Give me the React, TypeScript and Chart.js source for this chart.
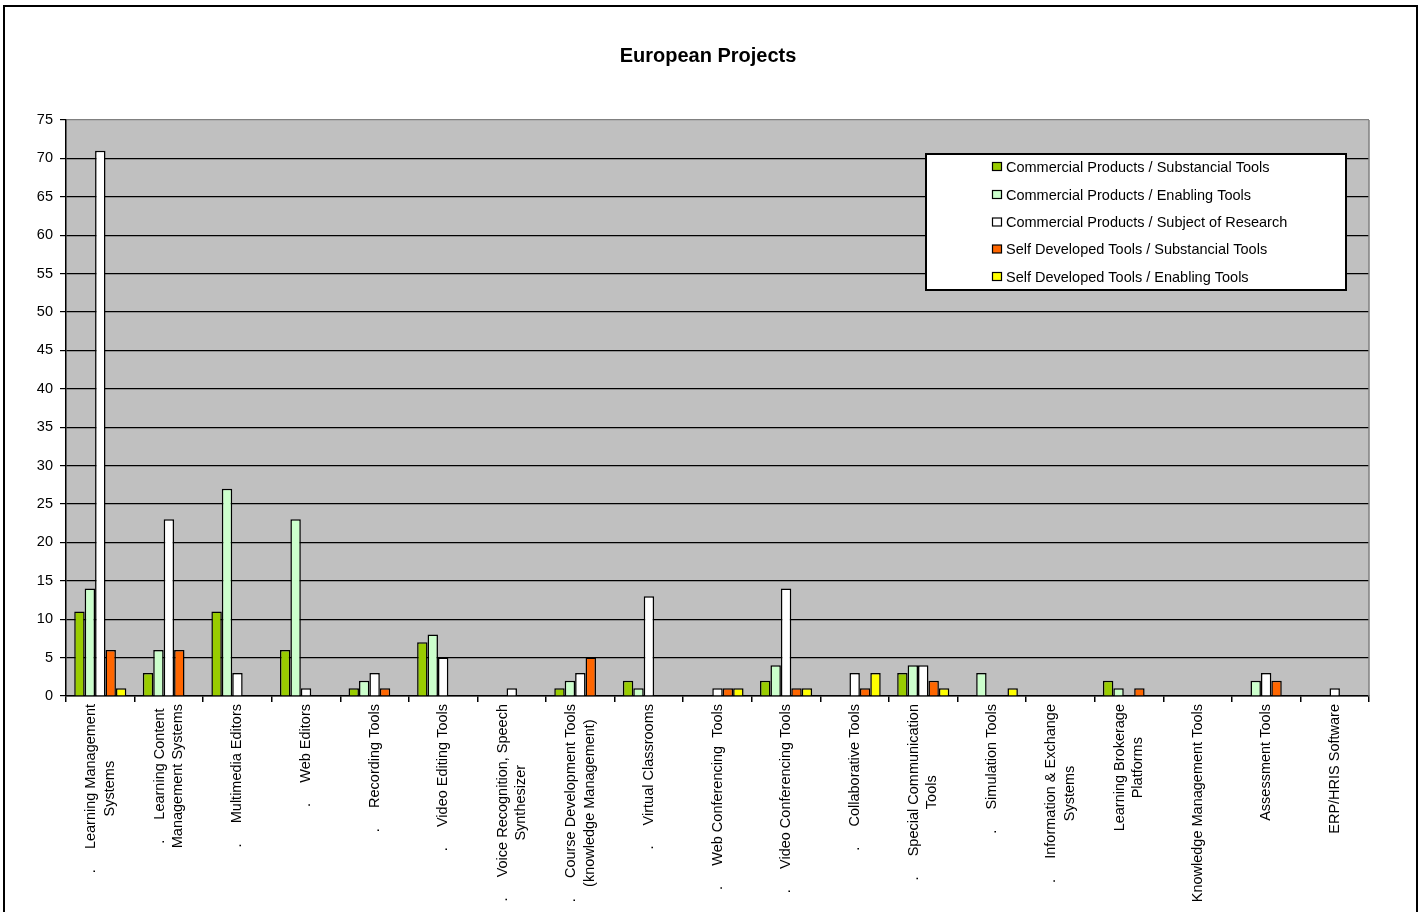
import { useEffect, useRef } from "react";
import { Chart, registerables } from "chart.js";

Chart.register(...registerables);

const FONT = "'Liberation Sans', Arial, Helvetica, sans-serif";

const chartTitle = "European Projects";

// Category labels, one entry per wrapped line (drawn rotated, reading upward)
const categories: string[][] = [
  [".     Learning Management", "Systems"],
  [".     Learning Content", "Management Systems"],
  [".     Multimedia Editors"],
  [".     Web Editors"],
  [".     Recording Tools"],
  [".     Video Editing Tools"],
  [".     Voice Recognition, Speech", "Synthesizer"],
  [".     Course Development Tools", "(knowledge Management)"],
  [".     Virtual Classrooms"],
  [".     Web Conferencing  Tools"],
  [".     Video Conferencing Tools"],
  [".     Collaborative Tools"],
  [".     Special Communication", "Tools"],
  [".     Simulation Tools"],
  [".     Information & Exchange", "Systems"],
  ["Learning Brokerage", "Platforms"],
  ["Knowledge Management Tools"],
  ["Assessment Tools"],
  ["ERP/HRIS Software"],
];

const seriesNames = [
  "Commercial Products / Substancial Tools",
  "Commercial Products / Enabling Tools",
  "Commercial Products / Subject of Research",
  "Self Developed Tools / Substancial Tools",
  "Self Developed Tools / Enabling Tools",
];

const commercialSubstancial = [11, 3, 11, 6, 1, 7, 0, 1, 2, 0, 2, 0, 3, 0, 0, 2, 0, 0, 0];
const commercialEnabling = [14, 6, 27, 23, 2, 8, 0, 2, 1, 0, 4, 0, 4, 3, 0, 1, 0, 2, 0];
const commercialResearch = [71, 23, 3, 1, 3, 5, 1, 3, 13, 1, 14, 3, 4, 0, 0, 0, 0, 3, 1];
const selfSubstancial = [6, 6, 0, 0, 1, 0, 0, 5, 0, 1, 1, 1, 2, 0, 0, 1, 0, 2, 0];
const selfEnabling = [1, 0, 0, 0, 0, 0, 0, 0, 0, 1, 1, 3, 1, 1, 0, 0, 0, 0, 0];

const seriesColors = ["#99CC00", "#CCFFCC", "#FFFFFF", "#FF6600", "#FFFF00"];

const yMin = 0;
const yMax = 75;
const yStep = 5;

// Background, frame, title, rotated category labels and the boxed legend
const decorPlugin = {
  id: "decor",
  beforeDraw(chart: any) {
    const { ctx, chartArea: a } = chart;
    ctx.save();
    ctx.fillStyle = "#FFFFFF";
    ctx.fillRect(0, 0, chart.width, chart.height);
    ctx.fillStyle = "#C0C0C0";
    ctx.fillRect(a.left, a.top, a.right - a.left, a.bottom - a.top);
    ctx.restore();
  },
  afterDraw(chart: any) {
    const { ctx, chartArea: a } = chart;
    ctx.save();

    // plot area right edge
    ctx.strokeStyle = "#808080";
    ctx.lineWidth = 1.5;
    ctx.beginPath();
    ctx.moveTo(a.right, a.top);
    ctx.lineTo(a.right, a.bottom);
    ctx.stroke();

    // outer frame
    ctx.strokeStyle = "#000000";
    ctx.lineWidth = 2;
    ctx.strokeRect(4, 6, 1413, 920);

    // title
    ctx.fillStyle = "#000000";
    ctx.font = `bold 20px ${FONT}`;
    ctx.textAlign = "center";
    ctx.textBaseline = "alphabetic";
    ctx.fillText(chartTitle, 708, 62);

    // category labels
    const xs = chart.scales.x;
    ctx.font = `14.5px ${FONT}`;
    ctx.textAlign = "center";
    ctx.textBaseline = "middle";
    const labels = chart.data.labels as string[][];
    labels.forEach((lines, i) => {
      const cx = xs.getPixelForValue(i);
      const len = Math.max(...lines.map((l) => ctx.measureText(l).width));
      ctx.save();
      ctx.translate(cx, a.bottom + 8);
      ctx.rotate(-Math.PI / 2);
      lines.forEach((ln, j) => {
        ctx.fillText(ln, -len / 2, (j - (lines.length - 1) / 2) * 18.5);
      });
      ctx.restore();
    });

    // legend
    const box = { x: 926, y: 154, w: 420, h: 136 };
    ctx.fillStyle = "#FFFFFF";
    ctx.fillRect(box.x, box.y, box.w, box.h);
    ctx.strokeStyle = "#000000";
    ctx.lineWidth = 2;
    ctx.strokeRect(box.x, box.y, box.w, box.h);
    ctx.font = `14.5px ${FONT}`;
    ctx.textAlign = "left";
    ctx.textBaseline = "middle";
    const rows = [167, 195, 222.5, 249.5, 277];
    chart.data.datasets.forEach((ds: any, i: number) => {
      const y = rows[i];
      ctx.fillStyle = ds.backgroundColor;
      ctx.fillRect(992.5, y - 4.5, 9, 8);
      ctx.strokeStyle = "#000000";
      ctx.lineWidth = 1.2;
      ctx.strokeRect(992.5, y - 4.5, 9, 8);
      ctx.fillStyle = "#000000";
      ctx.fillText(ds.label, 1006, y + 0.5);
    });

    ctx.restore();
  },
};

export default function App() {
  const canvasRef = useRef<HTMLCanvasElement>(null);

  useEffect(() => {
    const seriesValues = [
      commercialSubstancial,
      commercialEnabling,
      commercialResearch,
      selfSubstancial,
      selfEnabling,
    ];
    const chart = new Chart(canvasRef.current as HTMLCanvasElement, {
      type: "bar",
      data: {
        labels: categories,
        datasets: seriesValues.map((values, i) => ({
          label: seriesNames[i],
          data: values,
          backgroundColor: seriesColors[i],
          borderColor: "#000000",
          borderWidth: 1.5,
          categoryPercentage: 0.76,
          barPercentage: 1.0,
        })),
      },
      options: {
        responsive: false,
        animation: false,
        events: [],
        layout: { padding: { top: 120, right: 54, left: 0, bottom: 0 } },
        plugins: {
          legend: { display: false },
          title: { display: false },
          tooltip: { enabled: false },
        },
        scales: {
          x: {
            grid: {
              display: true,
              drawOnChartArea: false,
              drawTicks: true,
              tickLength: 6,
              color: "#000000",
              offset: true,
              lineWidth: 1.5,
            },
            border: { display: true, color: "#000000", width: 1.5 },
            ticks: { display: false },
            afterFit: (scale: any) => {
              scale.height = 216;
            },
          },
          y: {
            min: yMin,
            max: yMax,
            grid: {
              color: (ctx: any) => (ctx.tick && ctx.tick.value === yMax ? "#808080" : "#000000"),
              tickColor: "#000000",
              tickLength: 6,
              lineWidth: 1.2,
            },
            border: { display: true, color: "#000000", width: 1.5 },
            ticks: {
              stepSize: yStep,
              color: "#000000",
              padding: 7,
              font: { family: FONT, size: 14.5 },
            },
            afterFit: (scale: any) => {
              scale.width = 66;
            },
          },
        },
      },
      plugins: [decorPlugin],
    });
    return () => chart.destroy();
  }, []);

  return (
    <div style={{ position: "absolute", left: 0, top: 0, width: 1423, height: 912 }}>
      <canvas ref={canvasRef} width={1423} height={912} style={{ display: "block" }} />
    </div>
  );
}
